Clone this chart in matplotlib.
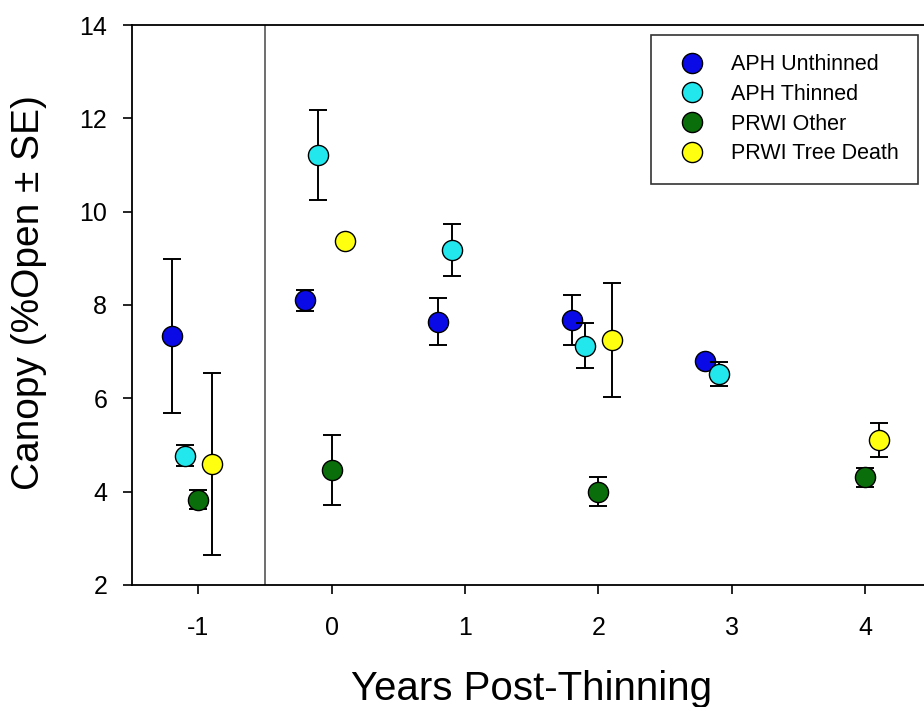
import matplotlib
matplotlib.use("Agg")
import matplotlib.pyplot as plt

plt.rcParams['font.family'] = ['Liberation Sans', 'DejaVu Sans']
plt.rcParams['axes.unicode_minus'] = False

series_names = ["APH Unthinned", "APH Thinned", "PRWI Other", "PRWI Tree Death"]

aph_un_years = [-1, 0, 1, 2, 3]
aph_un_mean = [7.34, 8.10, 7.64, 7.68, 6.80]
aph_un_se = [1.65, 0.22, 0.50, 0.53, 0.0]

aph_th_years = [-1, 0, 1, 2, 3]
aph_th_mean = [4.77, 11.22, 9.18, 7.13, 6.52]
aph_th_se = [0.23, 0.96, 0.56, 0.49, 0.26]

prwi_oth_years = [-1, 0, 2, 4]
prwi_oth_mean = [3.83, 4.47, 4.00, 4.31]
prwi_oth_se = [0.20, 0.75, 0.31, 0.20]

prwi_td_years = [-1, 0, 2, 4]
prwi_td_mean = [4.60, 9.38, 7.25, 5.11]
prwi_td_se = [1.95, 0.0, 1.23, 0.36]

x_ticks = [-1, 0, 1, 2, 3, 4]
y_ticks = [2, 4, 6, 8, 10, 12, 14]

offsets = [-0.2, -0.1, 0.0, 0.1]
colors = ['#0a0ae6', '#22e8ee', '#0a6e0a', '#ffff10']

fig = plt.figure(figsize=(9.24, 7.07), dpi=100)
ax = fig.add_axes([131.5 / 924, 122 / 707, 800.5 / 924, 560 / 707])

data = [
    (aph_un_years, aph_un_mean, aph_un_se),
    (aph_th_years, aph_th_mean, aph_th_se),
    (prwi_oth_years, prwi_oth_mean, prwi_oth_se),
    (prwi_td_years, prwi_td_mean, prwi_td_se),
]

for i, ((yrs, m, se), name) in enumerate(zip(data, series_names)):
    xs = [y + offsets[i] for y in yrs]
    ax.errorbar(xs, m, yerr=se, fmt='none', ecolor='black', elinewidth=1.4,
                capsize=6.2, capthick=1.4, zorder=2 + i * 2)
    ax.plot(xs, m, 'o', markersize=14.5, markerfacecolor=colors[i],
            markeredgecolor='black', markeredgewidth=1.0, label=name,
            zorder=3 + i * 2)

ax.axvline(-0.5, color='#555555', linewidth=1.2, zorder=1)

ax.set_xlim(-1.5, 4.5)
ax.set_ylim(2, 14)
ax.set_xticks(x_ticks)
ax.set_yticks(y_ticks)
ax.tick_params(direction='out', length=6.5, width=1.2, labelsize=18)
ax.tick_params(axis='x', pad=16)
ax.tick_params(axis='y', pad=11)
for s in ['left', 'bottom', 'top']:
    ax.spines[s].set_linewidth(1.3)
ax.spines['right'].set_visible(False)

ax.set_xlabel("Years Post-Thinning", fontsize=29, va='top')
ax.set_ylabel("Canopy (%Open ± SE)", fontsize=28)
ax.xaxis.set_label_coords(0.5, -0.152)
ax.yaxis.set_label_coords(-0.1056, 0.523)

leg = ax.legend(loc='upper left', bbox_to_anchor=(651 / 924, 1 - 35 / 707),
                bbox_transform=fig.transFigure, borderaxespad=0,
                fontsize=15.5, frameon=True, fancybox=False, edgecolor='black',
                handletextpad=0.8, labelspacing=0.4, borderpad=0.9,
                handlelength=2.0, markerscale=1.0)
leg.get_frame().set_linewidth(1.2)

fig.savefig("out.png", dpi=100)
